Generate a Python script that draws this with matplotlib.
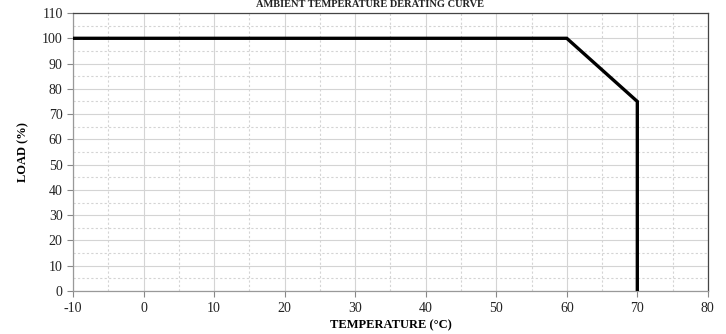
import matplotlib
matplotlib.use("Agg")
import matplotlib.pyplot as plt
from matplotlib.ticker import MultipleLocator

temperature = [-10, 60, 70, 70]
load = [100, 100, 75, 0]
x_ticks = list(range(-10, 81, 10))
y_ticks = list(range(0, 111, 10))

plt.rcParams['font.family'] = ['Liberation Serif', 'DejaVu Serif']
plt.rcParams['axes.unicode_minus'] = False

fig = plt.figure(figsize=(7.26, 3.34), dpi=100)
ax = fig.add_axes([0.1006, 0.1287, 0.8744, 0.8323])

ax.plot(temperature, load, color='black', linewidth=2.4, solid_joinstyle='miter', zorder=5)

ax.set_xlim(-10, 80)
ax.set_ylim(0, 110)
ax.set_xticks(x_ticks)
ax.set_yticks(y_ticks)
ax.xaxis.set_minor_locator(MultipleLocator(5))
ax.yaxis.set_minor_locator(MultipleLocator(5))
ax.grid(which='major', color='#d4d4d4', linewidth=0.8, linestyle='-')
ax.grid(which='minor', color='#d4d4d4', linewidth=0.8, linestyle=(0, (2, 2)))
ax.tick_params(which='minor', length=0)
ax.tick_params(which='major', length=4, width=0.8, color='#888888', labelsize=10, colors='#222222')
ax.tick_params(axis='x', pad=4)

for s in ['left', 'bottom']:
    ax.spines[s].set_color('#999999')
for s in ['top', 'right']:
    ax.spines[s].set_color('#444444')
for s in ax.spines.values():
    s.set_linewidth(0.9)

ax.set_xlabel('TEMPERATURE (°C)', fontsize=9, fontweight='bold', labelpad=3)
ax.set_ylabel('LOAD (%)', fontsize=9, fontweight='bold', labelpad=9)

fig.text(0.51, 0.999, 'AMBIENT TEMPERATURE DERATING CURVE', ha='center', va='top',
         fontsize=7.5, fontweight='bold', color='#222222')

fig.savefig('out.png', dpi=100)
